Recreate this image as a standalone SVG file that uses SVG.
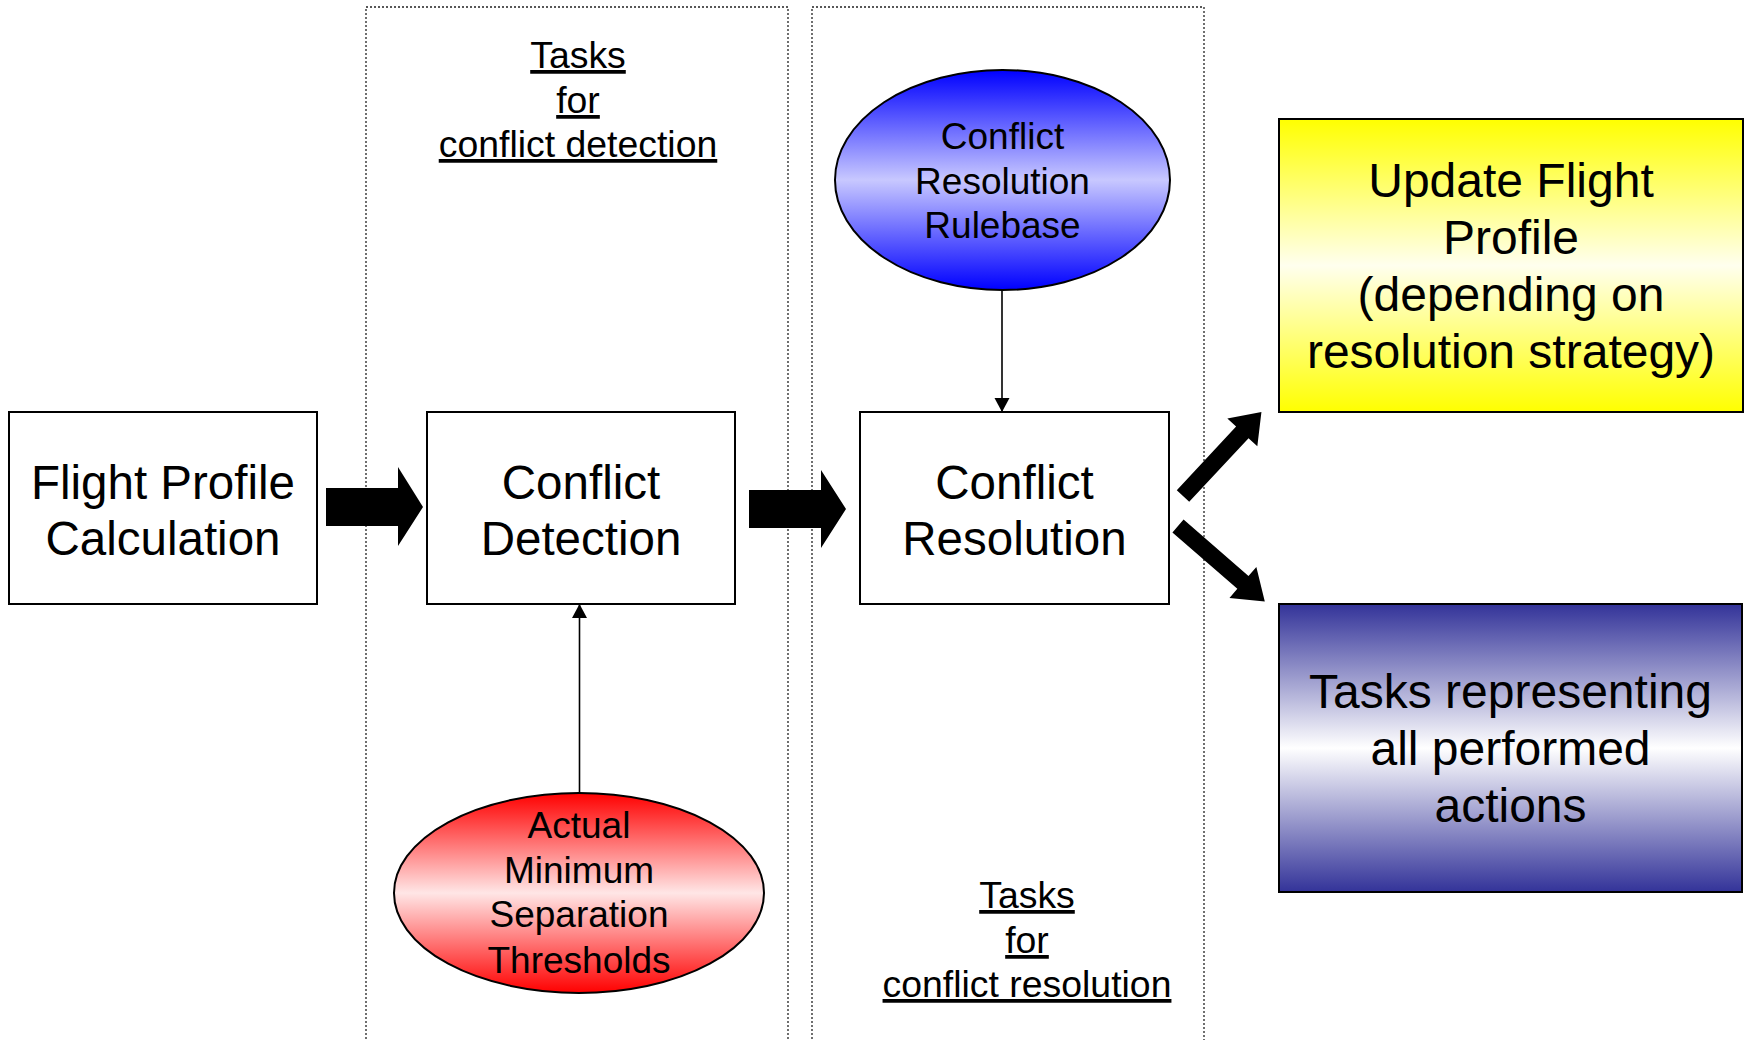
<svg xmlns="http://www.w3.org/2000/svg" width="1744" height="1040" viewBox="0 0 1744 1040">
  <style>
    text { font-family: "Liberation Sans", Arial, sans-serif; fill: #000; text-anchor: middle; }
    .box { fill: #fff; stroke: #000; stroke-width: 2; }
    .lane { fill: none; stroke: #222; stroke-width: 1.3; stroke-dasharray: 2 2; }
    .big { font-size: 47.5px; }
    .mid { font-size: 37px; }
    .xl { font-size: 48px; }
    .hdr { font-size: 37.4px; text-decoration: underline; }
    .thin { fill: none; stroke: #000; stroke-width: 1.6; marker-end: url(#tip); }
    .fat { fill: #000; stroke: none; }
  </style>
  <defs>
    <marker id="tip" markerUnits="userSpaceOnUse" markerWidth="15" markerHeight="16" refX="14" refY="7.5" orient="auto">
      <path d="M0,0 L14,7.5 L0,15 z" fill="#000"/>
    </marker>
    <linearGradient id="gYellow" x1="0" y1="0" x2="0" y2="1">
      <stop offset="0" stop-color="#ffff00"/>
      <stop offset="0.5" stop-color="#ffffee"/>
      <stop offset="1" stop-color="#ffff00"/>
    </linearGradient>
    <linearGradient id="gNavy" x1="0" y1="0" x2="0" y2="1">
      <stop offset="0" stop-color="#333399"/>
      <stop offset="0.5" stop-color="#ffffff"/>
      <stop offset="1" stop-color="#333399"/>
    </linearGradient>
    <linearGradient id="gBlue" x1="0" y1="0" x2="0" y2="1">
      <stop offset="0" stop-color="#0000ff"/>
      <stop offset="0.5" stop-color="#c8c8ff"/>
      <stop offset="1" stop-color="#0000ff"/>
    </linearGradient>
    <linearGradient id="gRed" x1="0" y1="0" x2="0" y2="1">
      <stop offset="0" stop-color="#ff0000"/>
      <stop offset="0.5" stop-color="#ffe6e6"/>
      <stop offset="1" stop-color="#ff0000"/>
    </linearGradient>
  </defs>

  <rect width="1744" height="1040" fill="#fff"/>

  <!-- dotted lanes -->
  <g id="lane-detection">
    <rect class="lane" x="366" y="7" width="422" height="1100"/>
    <text class="hdr"><tspan x="578" y="68">Tasks</tspan><tspan x="578" y="113">for</tspan><tspan x="578" y="157">conflict detection</tspan></text>
  </g>
  <g id="lane-resolution">
    <rect class="lane" x="812" y="7" width="392" height="1100"/>
    <text class="hdr"><tspan x="1027" y="908">Tasks</tspan><tspan x="1027" y="953">for</tspan><tspan x="1027" y="997">conflict resolution</tspan></text>
  </g>

  <!-- nodes -->
  <g id="flight-profile">
    <rect class="box" x="9" y="412" width="308" height="192"/>
    <text class="big"><tspan x="163" y="499">Flight Profile</tspan><tspan x="163" y="555">Calculation</tspan></text>
  </g>
  <g id="conflict-detection">
    <rect class="box" x="427" y="412" width="308" height="192"/>
    <text class="big"><tspan x="581" y="499">Conflict</tspan><tspan x="581" y="555">Detection</tspan></text>
  </g>
  <g id="conflict-resolution">
    <rect class="box" x="860" y="412" width="309" height="192"/>
    <text class="big"><tspan x="1014.5" y="499">Conflict</tspan><tspan x="1014.5" y="555">Resolution</tspan></text>
  </g>
  <g id="rulebase">
    <ellipse cx="1002.5" cy="180" rx="167.5" ry="110" fill="url(#gBlue)" stroke="#000" stroke-width="2"/>
    <text class="mid"><tspan x="1002.5" y="149">Conflict</tspan><tspan x="1002.5" y="194">Resolution</tspan><tspan x="1002.5" y="238">Rulebase</tspan></text>
  </g>
  <g id="thresholds">
    <ellipse cx="579" cy="893" rx="185" ry="100" fill="url(#gRed)" stroke="#000" stroke-width="2"/>
    <text class="mid"><tspan x="579" y="838">Actual</tspan><tspan x="579" y="883">Minimum</tspan><tspan x="579" y="927">Separation</tspan><tspan x="579" y="973">Thresholds</tspan></text>
  </g>
  <g id="update-profile">
    <rect x="1279" y="119" width="464" height="293" fill="url(#gYellow)" stroke="#000" stroke-width="2"/>
    <text class="xl"><tspan x="1511" y="197">Update Flight</tspan><tspan x="1511" y="254">Profile</tspan><tspan x="1511" y="311">(depending on</tspan><tspan x="1511" y="368">resolution strategy)</tspan></text>
  </g>
  <g id="performed-actions">
    <rect x="1279" y="604" width="463" height="288" fill="url(#gNavy)" stroke="#000" stroke-width="2"/>
    <text class="xl"><tspan x="1510.5" y="708">Tasks representing</tspan><tspan x="1510.5" y="765">all performed</tspan><tspan x="1510.5" y="822">actions</tspan></text>
  </g>

  <!-- connectors -->
  <g id="connectors">
    <polygon class="fat" points="326,488 398,488 398,467 423,507 398,546 398,526 326,526"/>
    <polygon class="fat" points="749,490 821,490 821,470 846,509 821,548 821,528 749,528"/>
    <polygon class="fat" transform="translate(1183,496) rotate(-47)" points="0,-8.5 87,-8.5 87,-20.5 115,0 87,20.5 87,8.5 0,8.5"/>
    <polygon class="fat" transform="translate(1178,526) rotate(41)" points="0,-8.5 86,-8.5 86,-20.5 115,0 86,20.5 86,8.5 0,8.5"/>
    <line class="thin" x1="1002" y1="290" x2="1002" y2="412"/>
    <line class="thin" x1="579.5" y1="793" x2="579.5" y2="604"/>
  </g>
</svg>
